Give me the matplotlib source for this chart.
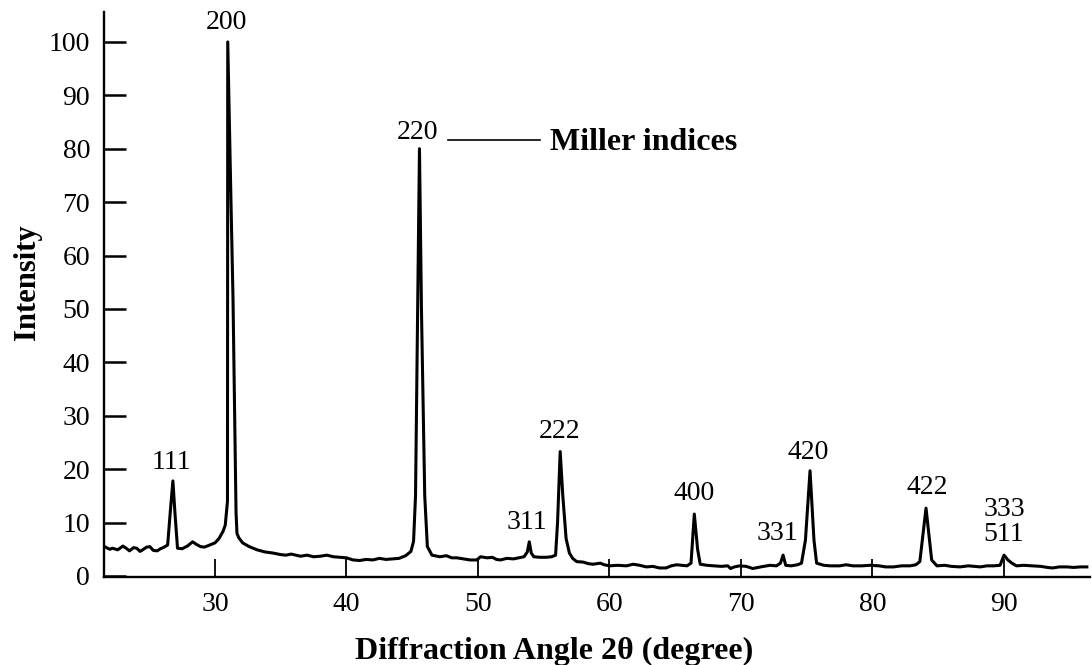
import matplotlib
matplotlib.use("Agg")
import matplotlib.pyplot as plt

# Hand-traced XRD pattern (2-theta in degrees, relative intensity)
two_theta = [21.6, 22.0, 22.2, 22.6, 23.0, 23.3, 23.5, 23.8, 24.05, 24.3, 24.5, 24.8,
             25.05, 25.3, 25.6, 25.85, 26.05, 26.4, 26.6, 26.8, 26.95, 27.15, 27.5, 27.9,
             28.3, 28.6, 28.9, 29.2, 29.6, 30.0, 30.3, 30.6, 30.78, 30.95, 30.97, 31.05,
             31.2, 31.37, 31.5, 31.6, 31.67, 31.8, 32.1, 32.6, 33.2, 33.8, 34.4, 35.0,
             35.4, 35.8, 36.5, 37.0, 37.5, 38.0, 38.5, 39.0, 39.5, 40.0, 40.5, 41.0,
             41.5, 42.0, 42.5, 43.0, 43.5, 44.0, 44.5, 44.9, 45.1, 45.25, 45.55, 45.7,
             45.95, 46.15, 46.5, 47.1, 47.6, 48.0, 48.4, 48.9, 49.4, 49.9, 50.2, 50.7,
             51.1, 51.4, 51.7, 52.2, 52.7, 53.1, 53.5, 53.75, 53.9, 54.05, 54.25, 54.7,
             55.2, 55.6, 55.9, 56.05, 56.25, 56.45, 56.7, 56.95, 57.2, 57.5, 58.0, 58.4,
             58.75, 59.3, 59.6, 60.0, 60.6, 61.3, 61.8, 62.3, 62.8, 63.3, 63.8, 64.3,
             64.7, 65.1, 65.5, 65.9, 66.2, 66.45, 66.7, 66.9, 67.4, 67.9, 68.5, 69.0,
             69.2, 69.5, 69.9, 70.4, 70.9, 71.5, 72.2, 72.7, 73.0, 73.2, 73.4, 73.8,
             74.3, 74.6, 74.9, 75.25, 75.55, 75.75, 76.3, 76.8, 77.5, 78.0, 78.5, 79.2,
             79.8, 80.5, 81.0, 81.6, 82.2, 82.85, 83.3, 83.6, 84.07, 84.5, 84.9, 85.5,
             86.0, 86.65, 87.3, 87.8, 88.2, 88.7, 89.2, 89.7, 90.0, 90.3, 90.6, 90.95,
             91.5, 92.2, 92.8, 93.3, 93.7, 94.2, 94.8, 95.3, 95.8, 96.3]
intensity = [5.5, 5.0, 5.2, 4.9, 5.6, 5.1, 4.7, 5.3, 5.2, 4.6, 4.9, 5.4,
             5.5, 4.8, 4.7, 5.1, 5.3, 5.8, 12.0, 17.8, 12.0, 5.2, 5.1, 5.6,
             6.4, 5.9, 5.5, 5.4, 5.8, 6.2, 7.0, 8.3, 9.5, 14.0, 100.0, 90.0,
             72.0, 52.0, 30.0, 12.0, 8.0, 7.2, 6.2, 5.5, 4.9, 4.5, 4.3, 4.0,
             3.9, 4.1, 3.7, 3.9, 3.6, 3.7, 3.9, 3.6, 3.5, 3.4, 3.0, 2.9,
             3.1, 3.0, 3.3, 3.1, 3.2, 3.3, 3.8, 4.6, 6.5, 15.0, 80.0, 50.0,
             15.0, 5.5, 3.9, 3.6, 3.8, 3.4, 3.4, 3.2, 3.0, 3.0, 3.6, 3.4,
             3.5, 3.1, 3.0, 3.3, 3.2, 3.4, 3.6, 4.5, 6.4, 4.3, 3.6, 3.5,
             3.5, 3.6, 3.9, 10.0, 23.3, 15.0, 7.0, 4.3, 3.3, 2.7, 2.6, 2.3,
             2.2, 2.4, 2.1, 1.9, 2.0, 1.9, 2.2, 2.0, 1.7, 1.8, 1.5, 1.5,
             1.9, 2.1, 2.0, 1.9, 2.4, 11.6, 5.0, 2.2, 2.0, 1.9, 1.8, 1.9,
             1.4, 1.7, 1.9, 1.8, 1.4, 1.7, 2.0, 1.9, 2.4, 3.9, 2.0, 1.9,
             2.1, 2.4, 6.7, 19.7, 6.7, 2.4, 2.0, 1.9, 1.9, 2.1, 1.9, 1.9,
             2.0, 1.9, 1.7, 1.7, 1.9, 1.9, 2.1, 2.7, 12.7, 3.0, 1.9, 2.0,
             1.8, 1.7, 1.9, 1.8, 1.7, 1.9, 1.9, 2.0, 3.9, 3.0, 2.4, 1.9,
             2.0, 1.9, 1.8, 1.6, 1.5, 1.7, 1.7, 1.6, 1.7, 1.7]

# Miller index labels and their anchor positions (2-theta, intensity)
miller_labels = ["200", "220", "111", "311", "222", "400", "331", "420", "422", "333\n511"]
label_x = [30.9, 45.4, 26.7, 53.7, 56.2, 66.4, 72.8, 75.1, 84.2, 90.0]
label_y = [103.7, 83.1, 21.3, 10.1, 27.0, 15.4, 7.9, 23.2, 16.5, 10.2]

x_ticks = [30, 40, 50, 60, 70, 80, 90]
y_ticks = [0, 10, 20, 30, 40, 50, 60, 70, 80, 90, 100]

SERIF = ["Liberation Serif", "DejaVu Serif"]
plt.rcParams["font.family"] = SERIF

fig = plt.figure(figsize=(10.92, 6.65), dpi=100)
ax = fig.add_axes([104 / 1092, 1 - 577 / 665, (1090 - 104) / 1092, (577 - 12) / 665])

ax.plot(two_theta, intensity, color="black", linewidth=2.2, solid_joinstyle="round")

ax.set_xlim(21.56, 96.54)
ax.set_ylim(-0.19, 105.6)
ax.set_xticks(x_ticks)
ax.set_yticks(y_ticks)

for side in ["top", "right"]:
    ax.spines[side].set_visible(False)
for side in ["left", "bottom"]:
    ax.spines[side].set_linewidth(1.7)

ax.tick_params(axis="x", direction="in", length=13, width=1.3, pad=11, labelsize=20)
ax.tick_params(axis="y", direction="in", length=16, width=1.8, pad=10, labelsize=20)

for lab, lx, ly in zip(miller_labels, label_x, label_y):
    ax.text(lx, ly, lab, ha="center", va="center", fontsize=20, linespacing=1.0)

# annotation for Miller indices
ax.plot([47.7, 54.7], [81.6, 81.6], color="black", linewidth=1.2)
ax.text(55.5, 81.1, "Miller indices", ha="left", va="center", fontsize=23, fontweight="bold")

ax.set_xlabel("Diffraction Angle 2θ (degree)", fontsize=23, fontweight="bold")
ax.set_ylabel("Intensity", fontsize=22, fontweight="bold")
ax.xaxis.label.set_verticalalignment("center")
ax.yaxis.label.set_verticalalignment("center")
ax.xaxis.set_label_coords(0.457, -0.131)
ax.yaxis.set_label_coords(-0.078, 0.522)

fig.savefig("out.png", dpi=100)
